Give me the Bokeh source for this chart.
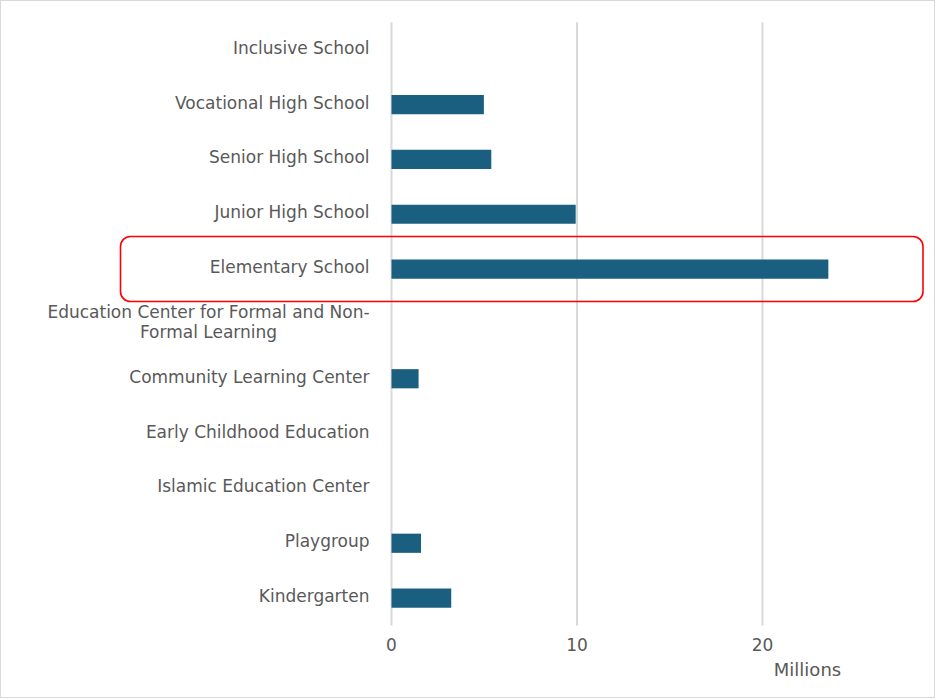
from bokeh.plotting import figure
from bokeh.models import Range1d, BoxAnnotation, ColumnDataSource
from bokeh.core.properties import value
from bokeh.embed import file_html
from bokeh.resources import INLINE

# categories listed bottom to top
categories = [
    "Kindergarten",
    "Playgroup",
    "Islamic Education Center",
    "Early Childhood Education",
    "Community Learning Center",
    "Education Center for Formal and Non-Formal Learning",
    "Elementary School",
    "Junior High School",
    "Senior High School",
    "Vocational High School",
    "Inclusive School",
]
category_labels = [
    "Kindergarten",
    "Playgroup",
    "Islamic Education Center",
    "Early Childhood Education",
    "Community Learning Center",
    "Education Center for Formal and Non-\nFormal Learning",
    "Elementary School",
    "Junior High School",
    "Senior High School",
    "Vocational High School",
    "Inclusive School",
]
values_millions = [3.22, 1.59, 0.0, 0.0, 1.46, 0.0, 23.55, 9.93, 5.38, 4.98, 0.0]
x_ticks = [0, 10, 20]
x_tick_labels = ["0", "10", "20"]
highlight = "Elementary School"
axis_unit = "Millions"

FONT = "DejaVu Sans"
GRAY = "#595959"
GRID = "#d9d9d9"
BAR = "#1B5F80"

W, H = 935, 698          # plus 1px CSS border on each side -> 937 x 700
PXU = 18.55              # pixels per million
ZERO_PX = 390            # canvas x of value 0
N = len(categories)
ROW_TOP_PX, ROW_BOT_PX = 20.8, 624.0
PXR = (ROW_BOT_PX - ROW_TOP_PX) / N   # pixels per row


def xd(px):
    return (px - ZERO_PX) / PXU


def yd(px):
    return N - (px - ROW_TOP_PX) / PXR


ypos = [i + 0.5 for i in range(N)]
single = [i for i, l in enumerate(category_labels) if "\n" not in l]
multi = [i for i, l in enumerate(category_labels) if "\n" in l]

src = ColumnDataSource(dict(y=ypos, val=values_millions))
src_single = ColumnDataSource(dict(y=[ypos[i] for i in single],
                                   lab=[category_labels[i] for i in single]))
src_multi = ColumnDataSource(dict(y=[ypos[i] for i in multi],
                                  lab=[category_labels[i] for i in multi]))

p = figure(
    width=W, height=H,
    x_range=Range1d(xd(0), xd(W)), y_range=Range1d(yd(H), yd(0)),
    output_backend="svg", toolbar_location=None,
    min_border=0,
)
p.styles = {"border": "1px solid #d9d9d9"}
p.outline_line_color = None
p.xaxis.visible = False
p.yaxis.visible = False
p.xgrid.visible = False
p.ygrid.visible = False

# vertical gridlines
p.segment(x0=x_ticks, y0=[0] * len(x_ticks), x1=x_ticks, y1=[N] * len(x_ticks),
          line_color=GRID, line_width=2)

# bars
p.hbar(y="y", right="val", left=0, height=0.35, source=src,
       fill_color=BAR, line_color=None)

# category labels
p.text(x=xd(368), y="y", text="lab", source=src_single, y_offset=-2,
       text_align="right", text_baseline="middle",
       text_font=value(FONT), text_font_size="17px", text_color=GRAY)
p.text(x=xd(207), y="y", text="lab", source=src_multi, y_offset=-2,
       text_align="center", text_baseline="middle",
       text_font=value(FONT), text_font_size="17px", text_color=GRAY,
       text_line_height=1.0)

# x tick labels
p.text(x=x_ticks, y=[yd(642.5)] * len(x_ticks), text=x_tick_labels,
       text_align="center", text_baseline="middle",
       text_font=value(FONT), text_font_size="17px", text_color=GRAY)

# axis unit label
p.text(x=[xd(806)], y=[yd(668)], text=[axis_unit],
       text_align="center", text_baseline="middle",
       text_font=value(FONT), text_font_size="18px", text_color=GRAY)

# highlight box
box = BoxAnnotation(left=xd(119), right=xd(921.5), bottom=yd(300), top=yd(235),
                    fill_alpha=0, line_color="#FF0000", line_alpha=1.0,
                    line_width=1.6, border_radius=10)
p.add_layout(box)

open("out.html", "w").write(file_html(p, INLINE))
